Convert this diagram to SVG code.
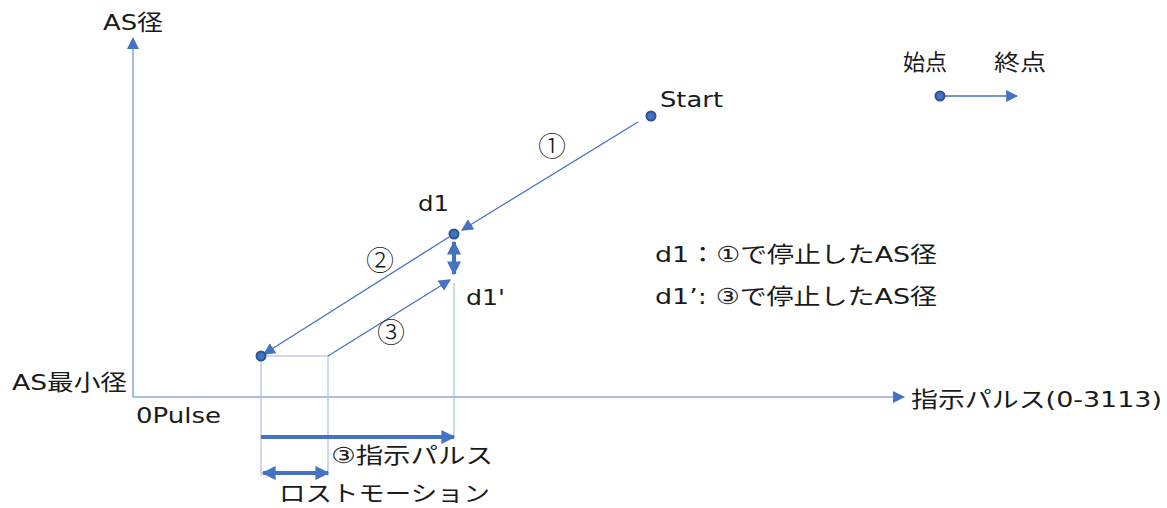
<svg xmlns="http://www.w3.org/2000/svg" width="1167" height="508" viewBox="0 0 1167 508">
<defs>
<marker id="ah" viewBox="0 0 10 10" refX="9" refY="5" markerWidth="12" markerHeight="12" markerUnits="userSpaceOnUse" orient="auto-start-reverse"><path d="M0,0 L10,5 L0,10 z" fill="#4472C4"/></marker>
<marker id="ahb" viewBox="0 0 10 10" refX="9" refY="5" markerWidth="14" markerHeight="14" markerUnits="userSpaceOnUse" orient="auto-start-reverse"><path d="M0,0 L10,5 L0,10 z" fill="#4472C4"/></marker>
</defs>
<style>
text{font-family:"DejaVu Sans","Noto Sans CJK JP",sans-serif;fill:#1a1a1a;font-size:22px}
.ln{stroke:#4472C4;stroke-width:1.3;fill:none}
.ax{stroke:#8FAADC;stroke-width:1.6;fill:none}
.gd{stroke:#9DB3E0;stroke-width:1;fill:none}
.tk{stroke:#4472C4;stroke-width:4;fill:none}
.dot{fill:#4472C4;stroke:#2F528F;stroke-width:2}
.cn{font-size:28px;font-family:"Noto Sans CJK JP","DejaVu Sans",sans-serif;font-weight:300}
</style>
<rect width="1167" height="508" fill="#fff"/>
<g id="axes">
<line class="ax" x1="133" y1="397" x2="133" y2="48"/>
<path d="M127,49 L133,37 L139,49 z" fill="#4472C4"/>
<line class="ax" x1="133" y1="397" x2="895" y2="397"/>
<path d="M893,391 L905,397 L893,403 z" fill="#4472C4"/>
<text x="103" y="30" textLength="60" lengthAdjust="spacingAndGlyphs">AS径</text>
<text x="12" y="390" textLength="115" lengthAdjust="spacingAndGlyphs">AS最小径</text>
<text x="136" y="423" textLength="85" lengthAdjust="spacingAndGlyphs">0Pulse</text>
<text x="911" y="407" textLength="251" lengthAdjust="spacingAndGlyphs">指示パルス(0-3113)</text>
</g>
<g id="guides">
<line class="gd" x1="261" y1="356" x2="328" y2="356"/>
<line class="gd" x1="261" y1="356" x2="261" y2="476"/>
<line class="gd" x1="328" y1="356" x2="328" y2="476"/>
<line class="gd" x1="454" y1="283" x2="454" y2="436"/>
</g>
<g id="connectors">
<line class="ln" x1="638" y1="122" x2="462" y2="230" marker-end="url(#ah)"/>
<line class="ln" x1="449" y1="237" x2="264" y2="354" marker-end="url(#ah)"/>
<line class="ln" x1="328" y1="356" x2="450" y2="280" marker-end="url(#ah)"/>
<line class="tk" x1="454" y1="242" x2="454" y2="274" marker-start="url(#ahb)" marker-end="url(#ahb)"/>
<line class="tk" x1="261" y1="437" x2="454" y2="437" marker-end="url(#ahb)"/>
<line class="tk" x1="263" y1="473" x2="328" y2="473" marker-start="url(#ahb)" marker-end="url(#ahb)"/>
<line class="ln" x1="940" y1="96" x2="1017" y2="96" marker-end="url(#ah)"/>
</g>
<g id="start"><circle class="dot" cx="651" cy="116" r="4.5"/><text x="660" y="107" textLength="63" lengthAdjust="spacingAndGlyphs">Start</text></g>
<g id="d1"><circle class="dot" cx="454" cy="234" r="4.5"/><text x="418" y="211" font-size="20" textLength="31" lengthAdjust="spacingAndGlyphs">d1</text></g>
<g id="min"><circle class="dot" cx="261" cy="356" r="4.5"/></g>
<g id="legend"><circle class="dot" cx="940" cy="96" r="4.5"/><text x="903" y="70" textLength="44" lengthAdjust="spacingAndGlyphs">始点</text><text x="994" y="70" textLength="52" lengthAdjust="spacingAndGlyphs">終点</text></g>
<g id="labels">
<text class="cn" x="552" y="157" text-anchor="middle">①</text>
<text class="cn" x="380" y="271" text-anchor="middle">②</text>
<text class="cn" x="391" y="343" text-anchor="middle">③</text>
<text x="466" y="305" font-size="21" textLength="39" lengthAdjust="spacingAndGlyphs">d1'</text>
<text x="655" y="262" textLength="282" lengthAdjust="spacingAndGlyphs">d1：①で停止したAS径</text>
<text x="655" y="304" textLength="282" lengthAdjust="spacingAndGlyphs">d1’: ③で停止したAS径</text>
<text x="331" y="463" textLength="162" lengthAdjust="spacingAndGlyphs">③指示パルス</text>
<text x="279" y="501" textLength="211" lengthAdjust="spacingAndGlyphs">ロストモーション</text>
</g>
</svg>
